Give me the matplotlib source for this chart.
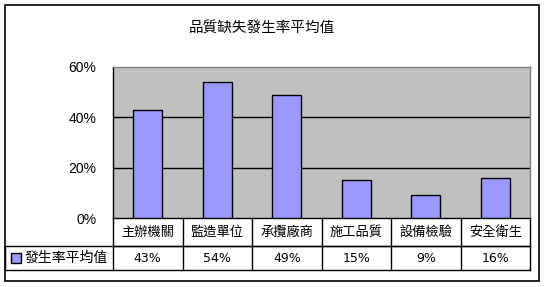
import matplotlib
matplotlib.use("Agg")
import matplotlib.pyplot as plt
from matplotlib.patches import Rectangle
from matplotlib.transforms import blended_transform_factory
from matplotlib.ticker import PercentFormatter

categories = ['主辦機關', '監造單位', '承攬廠商', '施工品質', '設備檢驗', '安全衛生']
values = [0.43, 0.54, 0.49, 0.15, 0.09, 0.16]
value_labels = ['43%', '54%', '49%', '15%', '9%', '16%']
series_name = '發生率平均值'
title = '品質缺失發生率平均值'
yticks = [0, 0.2, 0.4, 0.6]

CJK = ['Noto Sans CJK TC', 'DejaVu Sans']
W, H = 545, 287
fig = plt.figure(figsize=(W / 100, H / 100), dpi=100)
fig.patch.set_facecolor('white')

def fx(px):
    return px / W

def fy(py):
    return 1 - py / H

# outer border
fig.patches.append(Rectangle((fx(5), fy(281)), fx(534), 276 / H, transform=fig.transFigure,
                             fill=False, edgecolor='black', linewidth=1.2))

L, R, T, B = 113, 530, 67, 218
ax = fig.add_axes([fx(L), fy(B), fx(R - L), (B - T) / H])
ax.set_facecolor('#C0C0C0')
x = list(range(len(categories)))
ax.bar(x, values, width=0.42, color='#9999FF', edgecolor='black', linewidth=1.0, zorder=3)
ax.set_xlim(-0.5, len(categories) - 0.5)
ax.set_ylim(0, 0.6)
ax.set_yticks(yticks)
ax.yaxis.set_major_formatter(PercentFormatter(1.0, decimals=0))
ax.tick_params(axis='y', length=0, pad=12, labelsize=10)
for lab in ax.get_yticklabels():
    lab.set_fontfamily('Liberation Sans')
ax.set_xticks([])
for yv in yticks[1:-1]:
    ax.axhline(yv, color='black', linewidth=1.0, zorder=2)
ax.spines['top'].set_color('#808080')
ax.spines['right'].set_color('#808080')
ax.spines['left'].set_color('black')
ax.spines['bottom'].set_color('black')
for s in ax.spines.values():
    s.set_linewidth(1.0)

fig.text(fx(262), fy(28), title, ha='center', va='center', fontfamily=CJK, fontsize=10.5)

# data table
ah = B - T
r1 = -(246 - B) / ah
r2 = -(270 - B) / ah
leftx = (5 - L) / (R - L)
trb = blended_transform_factory(ax.transData, ax.transAxes)
kw = dict(color='black', linewidth=1.0, clip_on=False)
ax.plot([0, 1], [r1, r1], transform=ax.transAxes, **kw)
ax.plot([leftx, 1], [r1, r1], transform=ax.transAxes, **kw)
ax.plot([leftx, 1], [r2, r2], transform=ax.transAxes, **kw)
ax.plot([leftx, leftx], [r1, r2], transform=ax.transAxes, **kw)
for i in range(len(categories) + 1):
    ax.plot([i - 0.5, i - 0.5], [0, r2], transform=trb, **kw)
for i, (c, v) in enumerate(zip(categories, value_labels)):
    ax.text(i, r1 / 2, c, transform=trb, ha='center', va='center', fontfamily=CJK, fontsize=9.5)
    ax.text(i, (r1 + r2) / 2, v, transform=trb, ha='center', va='center',
            fontfamily='Liberation Sans Narrow', fontsize=9)
# legend key
fig.patches.append(Rectangle((fx(11), fy(263)), fx(10), 10 / H, transform=fig.transFigure,
                             facecolor='#9999FF', edgecolor='black', linewidth=1.0))
fig.text(fx(25), fy(258), series_name, ha='left', va='center', fontfamily=CJK, fontsize=10)

fig.savefig('out.png', dpi=100)
